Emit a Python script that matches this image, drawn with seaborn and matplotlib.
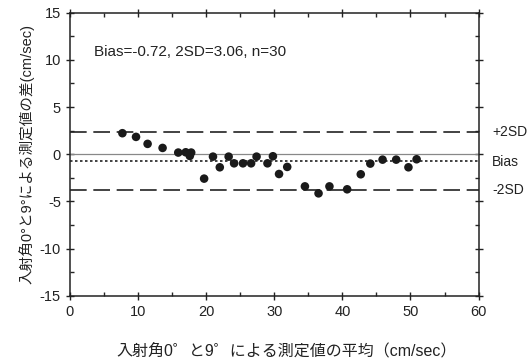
import numpy as np
import pandas as pd

import matplotlib
matplotlib.use("Agg")
import matplotlib.pyplot as plt
import seaborn as sns
from matplotlib.ticker import MultipleLocator

# values
mean_vals = [7.7, 9.7, 11.4, 13.6, 15.9, 17.0, 17.8, 17.6, 19.7, 21.0,
             22.0, 23.3, 24.1, 25.4, 26.6, 27.4, 29.0, 29.8, 30.7, 31.9,
             34.5, 36.5, 38.1, 40.7, 42.7, 44.1, 45.9, 47.9, 49.7, 50.9]
diff_vals = [2.23, 1.84, 1.10, 0.67, 0.18, 0.21, 0.18, -0.18, -2.58, -0.25,
             -1.38, -0.25, -0.96, -0.96, -0.96, -0.25, -0.96, -0.21, -2.09, -1.34,
             -3.40, -4.14, -3.40, -3.71, -2.12, -0.99, -0.57, -0.57, -1.38, -0.53]
bias = -0.72
sd2 = 3.06
n = 30
limit_labels = ["+2SD", "Bias", "-2SD"]

ds = pd.DataFrame({"mean": mean_vals, "diff": diff_vals})

sns.set_style("ticks")
plt.rcParams['font.family'] = ['Liberation Sans', 'Noto Sans CJK JP', 'DejaVu Sans']
plt.rcParams['axes.unicode_minus'] = False

f, ax = plt.subplots(figsize=(5.3, 3.6), dpi=100)
f.subplots_adjust(left=0.132, right=0.903, top=0.965, bottom=0.178)

ax.axhline(0, color="#888888", lw=0.9, zorder=1)
ax.axhline(bias, color="#222222", lw=1.2, ls=(0, (1.5, 1.5)), zorder=1)
ax.axhline(bias + sd2, color="#222222", lw=1.2, ls=(0, (10, 4)), zorder=1)
ax.axhline(bias - sd2, color="#222222", lw=1.2, ls=(0, (10, 4)), zorder=1)

sns.scatterplot(data=ds, x="mean", y="diff", ax=ax, color="#1a1a1a",
                s=38, edgecolor="none", zorder=3)

ax.set_xlim(0, 60)
ax.set_ylim(-15, 15)
ax.xaxis.set_major_locator(MultipleLocator(10))
ax.xaxis.set_minor_locator(MultipleLocator(5))
ax.yaxis.set_major_locator(MultipleLocator(5))
ax.yaxis.set_minor_locator(MultipleLocator(2.5))
ax.tick_params(which="major", direction="inout", length=6, width=1,
               top=True, right=True, labelsize=10.5, colors="#222222")
ax.tick_params(which="minor", direction="in", length=3, width=1,
               top=True, right=True)
for sp in ax.spines.values():
    sp.set_visible(True)
    sp.set_linewidth(1.1)
    sp.set_color("#222222")

ax.text(3.5, 10.8, f"Bias={bias}, 2SD={sd2}, n={n}", fontsize=11,
        va="center", color="#222222")

for yv, lab in zip([bias + sd2, bias - 0.1, bias - sd2], limit_labels):
    ax.text(62, yv, lab, fontsize=10, va="center", ha="left",
            color="#222222", clip_on=False)

ax.set_xlabel("入射角0゜と9゜による測定値の平均（cm/sec）", fontsize=11.5,
              color="#222222")
ax.xaxis.set_label_coords(0.53, -0.165)
ax.set_ylabel("入射角0°と9°による測定値の差(cm/sec)", fontsize=10.5,
              labelpad=4, color="#222222")

plt.savefig("out.png", dpi=100)
